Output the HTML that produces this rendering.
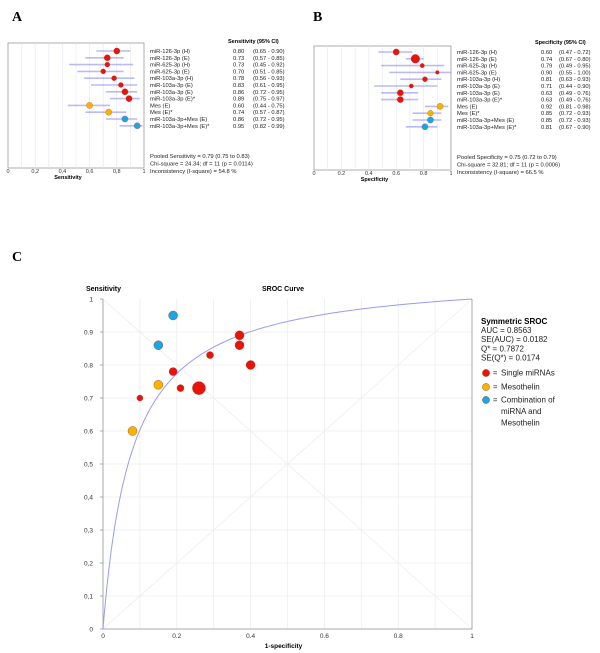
<!DOCTYPE html>
<html><head><meta charset="utf-8"><style>
html,body{margin:0;padding:0;background:#fff;}
svg{display:block;font-family:"Liberation Sans",sans-serif;}
</style></head><body>
<svg id="fig" width="600" height="653" viewBox="0 0 600 653">
<text x="12" y="21" font-family="Liberation Serif" font-weight="bold" font-size="14">A</text>
<text x="313" y="21" font-family="Liberation Serif" font-weight="bold" font-size="14">B</text>
<text x="12" y="261" font-family="Liberation Serif" font-weight="bold" font-size="14">C</text>
<g id="ga"></g>
<g id="gb"></g>
<g id="gc"></g>
</svg>
<script>
const studyLabels = ["miR-126-3p (H)","miR-126-3p (E)","miR-625-3p (H)","miR-625-3p (E)","miR-103a-3p (H)","miR-103a-3p (E)","miR-103a-3p (E)","miR-103a-3p (E)*","Mes (E)","Mes (E)*","miR-103a-3p+Mes (E)","miR-103a-3p+Mes (E)*"];
const groups = ["red","red","red","red","red","red","red","red","yellow","yellow","blue","blue"];
const sensValues = [0.80,0.73,0.73,0.70,0.78,0.83,0.86,0.89,0.60,0.74,0.86,0.95];
const sensLow = [0.65,0.57,0.45,0.51,0.56,0.61,0.72,0.75,0.44,0.57,0.72,0.82];
const sensHigh = [0.90,0.85,0.92,0.85,0.93,0.95,0.95,0.97,0.75,0.87,0.95,0.99];
const specValues = [0.60,0.74,0.79,0.90,0.81,0.71,0.63,0.63,0.92,0.85,0.85,0.81];
const specLow = [0.47,0.67,0.49,0.55,0.63,0.44,0.49,0.49,0.81,0.72,0.72,0.67];
const specHigh = [0.72,0.80,0.95,1.00,0.93,0.90,0.76,0.76,0.98,0.93,0.93,0.90];
const weightA = [5,5,4,4,4,4,5,5,5,5,5,5];
const weightB = [5,7,3.5,3,4,3.5,5,5,5,4.5,5,5];
const srocWeight = [4.5,6.5,3.5,3,4,3.5,4.5,4.5,4.5,4.5,4.5,4.5];
const forestTicksA = ["0","0,2","0,4","0,6","0,8","1"];
const forestTicksB = ["0","0.2","0.4","0.6","0.8","1"];
const footerA = ["Pooled Sensitivity = 0.79 (0.75 to 0.83)","Chi-square = 24.34; df = 11 (p = 0.0114)","Inconsistency (I-square) = 54.8 %"];
const footerB = ["Pooled Specificity = 0.75 (0.72 to 0.79)","Chi-square = 32.81; df = 11 (p = 0.0006)","Inconsistency (I-square) = 66.5 %"];
const qStar = 0.7872;
const srocStats = ["AUC = 0.8563","SE(AUC) = 0.0182","Q* = 0.7872","SE(Q*) = 0.0174"];
const yTicksC = ["0","0,1","0,2","0,3","0,4","0,5","0.6","0.7","0.8","0.9","1"];
const xTicksC = ["0","0.2","0.4","0.6","0.8","1"];
const legendLabels = [["Single miRNAs"],["Mesothelin"],["Combination of","miRNA and","Mesothelin"]];
const colors = {red:"#e8140c",yellow:"#f5b400",blue:"#1aa6e6"};
const legendColors = ["red","yellow","blue"];

const NS="http://www.w3.org/2000/svg";
function mk(parent,tag,attrs,text){const e=document.createElementNS(NS,tag);for(const k in attrs)e.setAttribute(k,attrs[k]);if(text!==undefined)e.textContent=text;parent.appendChild(e);return e;}

function forest(g,cfg){
  const sx=v=>cfg.x0+v*(cfg.x1-cfg.x0);
  const r=mk(g,'rect',{x:cfg.x0,y:cfg.y0,width:cfg.x1-cfg.x0,height:cfg.y1-cfg.y0,fill:'#fff',stroke:'#999','stroke-width':0.8});
  
  
  for(let i=1;i<10;i++){const l=mk(g,'line',{x1:sx(i/10),x2:sx(i/10),y1:cfg.y0,y2:cfg.y1,stroke:'#e6e6ee','stroke-width':0.6});
    
    }
  cfg.ticks.forEach((t,i)=>{const v=i/(cfg.ticks.length-1);
    const tx=mk(g,'text',{x:sx(v),y:cfg.y1+5,'font-size':5.5,'text-anchor':'middle',fill:'#333'},t);
    
    });
  const at=mk(g,'text',{x:(cfg.x0+cfg.x1)/2-8,y:cfg.y1+11,'font-size':5.5,'font-weight':'bold','text-anchor':'middle'},cfg.title);
  
  
  const hd=mk(g,'text',{x:cfg.hx,y:cfg.hy,'font-size':5.5,'font-weight':'bold'},cfg.title+" (95% CI)");
  
  
  studyLabels.forEach((lab,i)=>{
    const y=cfg.ry0+i*cfg.step;
    const ci=mk(g,'line',{x1:sx(cfg.lo[i]),x2:sx(cfg.hi[i]),y1:y,y2:y,stroke:'#8c8cf0','stroke-width':1.6,'stroke-opacity':0.6});
    
    
    const c=mk(g,'circle',{cx:sx(cfg.vals[i]),cy:y,r:cfg.w[i]/1.6,fill:colors[groups[i]],stroke:'#b04020','stroke-width':0.3});
    
    
    const t=mk(g,'text',{x:cfg.lx,y:y+2,'font-size':5.8,fill:'#222'},lab);
    
    
    const v=mk(g,'text',{x:cfg.vx,y:y+2,'font-size':5.8,fill:'#222'},cfg.vals[i].toFixed(2));
    
    
    const c2=mk(g,'text',{x:cfg.cx,y:y+2,'font-size':5.8,fill:'#222'},"("+cfg.lo[i].toFixed(2)+" - "+cfg.hi[i].toFixed(2)+")");
    
    
  });
  cfg.footer.forEach((f,i)=>{const t=mk(g,'text',{x:cfg.lx,y:cfg.fy+i*7.5,'font-size':5.8,fill:'#222'},f);
    
    });
}
forest(document.getElementById('ga'),{x0:8,x1:144,y0:43,y1:168,ry0:51,step:6.8,ticks:forestTicksA,title:"Sensitivity",hx:228,hy:43,lx:150,vx:233,cx:253,fy:158,footer:footerA,vals:sensValues,lo:sensLow,hi:sensHigh,w:weightA});
forest(document.getElementById('gb'),{x0:314,x1:451,y0:46,y1:170,ry0:52,step:6.8,ticks:forestTicksB,title:"Specificity",hx:535,hy:44,lx:457,vx:541,cx:559,fy:159,footer:footerB,vals:specValues,lo:specLow,hi:specHigh,w:weightB});

// SROC
const gc=document.getElementById('gc');
const X0=103,X1=472,Y0=629,Y1=299;
const sx=v=>X0+v*(X1-X0), sy=v=>Y0-v*(Y0-Y1);
for(let i=1;i<10;i++){
  const a=mk(gc,'line',{x1:sx(i/10),x2:sx(i/10),y1:Y0,y2:Y1,stroke:'#ececec','stroke-width':0.7});
  
  
  const b=mk(gc,'line',{x1:X0,x2:X1,y1:sy(i/10),y2:sy(i/10),stroke:'#ececec','stroke-width':0.7});
  
  
}
const d1=mk(gc,'line',{x1:sx(0),y1:sy(0),x2:sx(1),y2:sy(1),stroke:'#eeeeee','stroke-width':0.8});


const d2=mk(gc,'line',{x1:sx(0),y1:sy(1),x2:sx(1),y2:sy(0),stroke:'#eeeeee','stroke-width':0.8});


const ax=mk(gc,'path',{d:`M${X0} ${Y1} V${Y0} H${X1} V${Y1}`,fill:'none',stroke:'#aaa','stroke-width':1});


yTicksC.forEach((t,i)=>{const v=i/10;
  const tk=mk(gc,'line',{x1:X0-3,x2:X0,y1:sy(v),y2:sy(v),stroke:'#888','stroke-width':0.7});
  
  
  const tx=mk(gc,'text',{x:X0-10,y:sy(v)+2.5,'font-size':6.5,'text-anchor':'end',fill:'#333'},t);
  
  });
xTicksC.forEach((t,i)=>{const v=i/5;
  const tx=mk(gc,'text',{x:sx(v),y:Y0+9,'font-size':6.5,'text-anchor':'middle',fill:'#333'},t);
  
  });
const xt=mk(gc,'text',{x:sx(0.5)-4,y:Y0+19,'font-size':6.5,'font-weight':'bold','text-anchor':'middle'},"1-specificity");


const yt=mk(gc,'text',{x:86,y:291,'font-size':7,'font-weight':'bold'},"Sensitivity");


const ct=mk(gc,'text',{x:262,y:291,'font-size':7,'font-weight':'bold'},"SROC Curve");


// curve from Q*
const sdor=qStar/(1-qStar), dor=sdor*sdor;
let pd="";
for(let i=0;i<=200;i++){const x=Math.pow(i/200,2);const odds=x<=0?0:dor*x/(1-x+1e-12);const y=x>=1?1:odds/(1+odds);pd+=(i?"L":"M")+sx(x).toFixed(2)+" "+sy(y).toFixed(2);}
const cv=mk(gc,'path',{d:pd,fill:'none',stroke:'#9a9af5','stroke-width':1});


sensValues.forEach((s,i)=>{
  const c=mk(gc,'circle',{cx:sx(1-specValues[i]),cy:sy(s),r:srocWeight[i],fill:colors[groups[i]],stroke:'#a03010','stroke-width':0.4});
  
  
});
const lt=mk(gc,'text',{x:481,y:324,'font-size':8,'font-weight':'bold'},"Symmetric SROC");


srocStats.forEach((s,i)=>{const t=mk(gc,'text',{x:481,y:333+i*9.2,'font-size':8,fill:'#222'},s);
  
  });
const ly=[373,387,400];
legendLabels.forEach((lines,i)=>{
  const c=mk(gc,'circle',{cx:486,cy:ly[i],r:3.6,fill:colors[legendColors[i]],stroke:'#a03010','stroke-width':0.4});
  
  
  const eq=mk(gc,'text',{x:493,y:ly[i]+2.6,'font-size':7.5,fill:'#222'},"=");
  
  
  lines.forEach((l,j)=>{const t=mk(gc,'text',{x:501,y:ly[i]+2.6+j*11.5,'font-size':8,fill:'#222'},l);
    
    });
});
</script>
</body></html>
